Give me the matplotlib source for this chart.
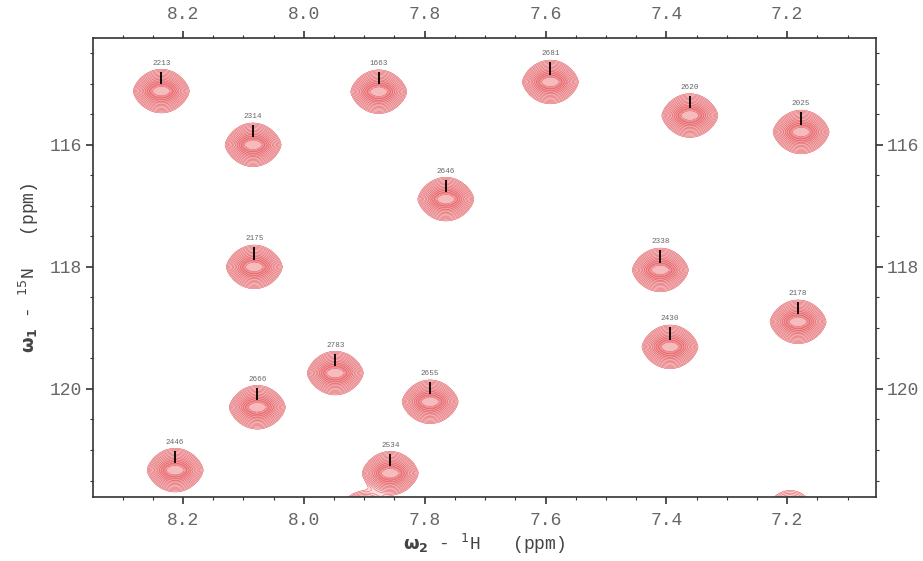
import numpy as np
import matplotlib
matplotlib.use("Agg")
import matplotlib.pyplot as plt
from matplotlib.ticker import MultipleLocator, FormatStrFormatter
from matplotlib.colors import LinearSegmentedColormap

# peak list: assignment, 1H shift, 15N shift
labels = ["2213", "2314", "1663", "2681", "2620", "2025", "2646", "2175",
          "2338", "2178", "2430", "2783", "2655", "2666", "2446", "2534"]
h_ppm = [8.236, 8.084, 7.876, 7.592, 7.361, 7.177, 7.765, 8.082,
         7.410, 7.182, 7.394, 7.948, 7.791, 8.077, 8.213, 7.857]
n_ppm = [115.12, 116.00, 115.13, 114.97, 115.52, 115.79, 116.89, 118.00,
         118.05, 118.90, 119.31, 119.74, 120.21, 120.30, 121.33, 121.38]
height = [1.0] * len(labels)

# unlabelled peaks cut by the lower edge
h_extra = [7.899, 7.195]
n_extra = [121.98, 121.90]
height_extra = [0.5, 0.2]

xlim = (8.349, 7.053)
ylim = (121.77, 114.25)

sx, sy = 0.0175, 0.155

gx = np.linspace(7.0, 8.4, 900)
gy = np.linspace(114.0, 122.4, 900)
X, Y = np.meshgrid(gx, gy)
Z = np.zeros_like(X)
for h, n, a in zip(h_ppm + h_extra, n_ppm + n_extra, height + height_extra):
    Z += a * np.exp(-0.5 * ((X - h) / sx) ** 2 - np.abs((Y - n) / sy) ** 1.5)

levels = 0.03 * 1.3 ** np.arange(0, 15)
levels = levels[levels < 0.9]

pink = LinearSegmentedColormap.from_list("pk", ["#fbe0e0", "#f29a9d", "#ef868a", "#f7c0c2", "#ffffff"])

fig = plt.figure(figsize=(9.23, 5.61), dpi=100)
ax = fig.add_axes([93 / 923, 1 - 497 / 561, (876 - 93) / 923, (497 - 38) / 561])

ax.contourf(X, Y, Z, levels=list(levels) + [1.5], cmap=pink)
ax.contour(X, Y, Z, levels=levels, colors="#de4c54", linewidths=0.4, alpha=0.85)

for lab, h, n in zip(labels, h_ppm, n_ppm):
    ax.plot([h, h], [n - 0.32, n - 0.12], color="black", lw=1.3, solid_capstyle="butt")
    ax.text(h, n - 0.46, lab, ha="center", va="center", fontsize=5.5,
            color="#666666", family="Liberation Mono")

ax.set_xlim(xlim)
ax.set_ylim(ylim)

ax.xaxis.set_major_locator(MultipleLocator(0.2))
ax.xaxis.set_minor_locator(MultipleLocator(0.05))
ax.xaxis.set_major_formatter(FormatStrFormatter("%.1f"))
ax.yaxis.set_major_locator(MultipleLocator(2))
ax.yaxis.set_minor_locator(MultipleLocator(0.5))
ax.yaxis.set_major_formatter(FormatStrFormatter("%d"))

ax.tick_params(which="both", top=True, right=True, labeltop=True, labelright=True,
               direction="out", colors="#333333", labelcolor="#666666",
               labelsize=13)
ax.tick_params(which="major", length=5, width=1.2)
ax.tick_params(which="minor", length=2.5, width=0.8)
ax.tick_params(axis="x", pad=6)
ax.tick_params(axis="y", pad=3)
for lbl in ax.get_xticklabels() + ax.get_yticklabels():
    lbl.set_family("Liberation Mono")
for sp in ax.spines.values():
    sp.set_linewidth(1.2)
    sp.set_color("#333333")

ax.set_xlabel(r"$\mathbf{\omega_2}$ - $^{1}$H   (ppm)", fontsize=13,
              color="#444444", family="Liberation Mono", labelpad=2)
ax.set_ylabel(r"$\mathbf{\omega_1}$ - $^{15}$N   (ppm)", fontsize=13,
              color="#444444", family="Liberation Mono", labelpad=6)

fig.savefig("out.png", dpi=100)
